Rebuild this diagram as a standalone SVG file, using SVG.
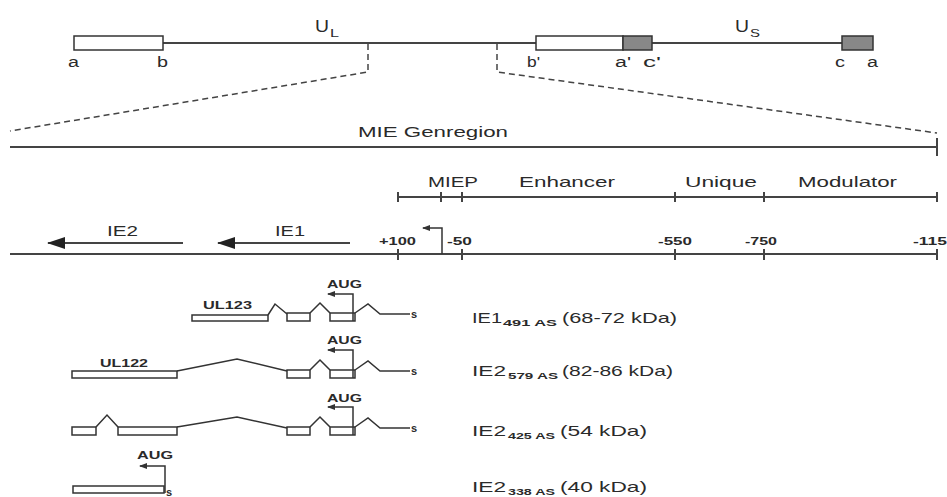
<svg xmlns="http://www.w3.org/2000/svg" width="947" height="497" viewBox="0 0 947 497">
<defs>
<marker id="big" viewBox="0 0 18 12" refX="17" refY="6" markerWidth="18" markerHeight="12" markerUnits="userSpaceOnUse" orient="auto">
<path d="M0,0 L18,6 L0,12 Z" fill="#222"/>
</marker>
<marker id="small" viewBox="0 0 8 6" refX="7" refY="3" markerWidth="8" markerHeight="6" markerUnits="userSpaceOnUse" orient="auto">
<path d="M0,0 L8,3 L0,6 Z" fill="#333"/>
</marker>
</defs>
<style>
text{font-family:"Liberation Sans",Arial,sans-serif;fill:#2a2a2a}
.t15{font-size:15px}
.t14{font-size:14px}
.t11{font-size:11px;font-weight:bold}
.sub{font-size:9px;font-weight:bold}
.ln{stroke:#444;stroke-width:2;fill:none}
.thin{stroke:#333;stroke-width:1.5;fill:none}
.dash{stroke:#444;stroke-width:1.5;fill:none;stroke-dasharray:6,4}
.box{fill:#fff;stroke:#333;stroke-width:1.5}
.gbox{fill:#888;stroke:#333;stroke-width:1.5}
</style>
<rect width="947" height="497" fill="#fff"/>

<g id="genome">
<line class="ln" x1="74" y1="43" x2="873" y2="43"/>
<rect class="box" x="74" y="36" width="89" height="14"/>
<rect class="box" x="536" y="36" width="87" height="14"/>
<rect class="gbox" x="623" y="36" width="29" height="14"/>
<rect class="gbox" x="842" y="36" width="31" height="14"/>
<text style="font-size:17px" x="315" y="32" textLength="14" lengthAdjust="spacingAndGlyphs">U</text>
<text style="font-size:11px" x="330" y="37" textLength="9" lengthAdjust="spacingAndGlyphs">L</text>
<text style="font-size:17px" x="735" y="32" textLength="14" lengthAdjust="spacingAndGlyphs">U</text>
<text style="font-size:11px" x="750" y="37" textLength="10" lengthAdjust="spacingAndGlyphs">S</text>
<text class="t14" x="68" y="67" textLength="11" lengthAdjust="spacingAndGlyphs">a</text>
<text class="t14" x="157" y="67" textLength="11" lengthAdjust="spacingAndGlyphs">b</text>
<text class="t14" x="527" y="67" textLength="13" lengthAdjust="spacingAndGlyphs">b'</text>
<text class="t14" x="615" y="67" textLength="16" lengthAdjust="spacingAndGlyphs">a'</text>
<text class="t14" x="643" y="67" textLength="18" lengthAdjust="spacingAndGlyphs">c'</text>
<text class="t14" x="835" y="67" textLength="10" lengthAdjust="spacingAndGlyphs">c</text>
<text class="t14" x="867" y="67" textLength="11" lengthAdjust="spacingAndGlyphs">a</text>
</g>

<g id="zoom-lines">
<path class="dash" d="M368,44 V72 L10,131"/>
<path class="dash" d="M497,44 V72 L937,133"/>
</g>

<g id="mie-genregion">
<line class="ln" x1="10" y1="147" x2="937" y2="147"/>
<line class="ln" x1="937" y1="138" x2="937" y2="156"/>
<text class="t15" x="358" y="137" textLength="150" lengthAdjust="spacingAndGlyphs">MIE Genregion</text>
</g>

<g id="regions">
<line class="ln" x1="398" y1="197" x2="937" y2="197"/>
<g class="ln">
<line x1="398" y1="192" x2="398" y2="202"/>
<line x1="441" y1="192" x2="441" y2="202"/>
<line x1="462" y1="192" x2="462" y2="202"/>
<line x1="675" y1="192" x2="675" y2="202"/>
<line x1="764" y1="192" x2="764" y2="202"/>
<line x1="937" y1="192" x2="937" y2="202"/>
</g>
<text class="t15" x="428" y="187" textLength="50" lengthAdjust="spacingAndGlyphs">MIEP</text>
<text class="t15" x="519" y="187" textLength="96" lengthAdjust="spacingAndGlyphs">Enhancer</text>
<text class="t15" x="685" y="187" textLength="72" lengthAdjust="spacingAndGlyphs">Unique</text>
<text class="t15" x="798" y="187" textLength="99" lengthAdjust="spacingAndGlyphs">Modulator</text>
</g>

<g id="coordinate-axis">
<line class="ln" x1="10" y1="254" x2="937" y2="254"/>
<g class="ln">
<line x1="398" y1="249" x2="398" y2="260"/>
<line x1="462" y1="249" x2="462" y2="260"/>
<line x1="675" y1="249" x2="675" y2="260"/>
<line x1="764" y1="249" x2="764" y2="260"/>
<line x1="937" y1="249" x2="937" y2="260"/>
</g>
<text class="t11" x="379" y="245" textLength="37" lengthAdjust="spacingAndGlyphs">+100</text>
<text class="t11" x="447" y="245" textLength="25" lengthAdjust="spacingAndGlyphs">-50</text>
<text class="t11" x="658" y="245" textLength="34" lengthAdjust="spacingAndGlyphs">-550</text>
<text class="t11" x="745" y="245" textLength="32" lengthAdjust="spacingAndGlyphs">-750</text>
<text class="t11" x="913" y="245" textLength="34" lengthAdjust="spacingAndGlyphs">-115</text>
<text class="t15" x="107" y="236" textLength="31" lengthAdjust="spacingAndGlyphs">IE2</text>
<text class="t15" x="275" y="236" textLength="30" lengthAdjust="spacingAndGlyphs">IE1</text>
</g>

<g id="connectors">
<line class="ln" x1="183" y1="243" x2="48" y2="243" marker-end="url(#big)"/>
<line class="ln" x1="350" y1="243" x2="218" y2="243" marker-end="url(#big)"/>
<path class="thin" d="M442,254 V228 H423" marker-end="url(#small)"/>
</g>

<g id="transcript-ie1">
<rect class="box" x="192" y="315" width="76" height="6"/>
<rect class="box" x="287" y="313" width="23" height="8"/>
<rect class="box" x="330" y="313" width="25" height="8"/>
<polyline class="thin" points="268,315 275,304 287,314"/>
<polyline class="thin" points="310,313 320,303 330,313"/>
<polyline class="thin" points="355,313 368,304 380,314 410,314"/>
<path class="thin" d="M353,321 V294 H328" marker-end="url(#small)"/>
<text class="t11" x="327" y="288" textLength="35" lengthAdjust="spacingAndGlyphs">AUG</text>
<text class="t11" x="203" y="309" textLength="49" lengthAdjust="spacingAndGlyphs">UL123</text>
<text class="t11" x="411" y="318">s</text>
<text class="t15" x="472" y="323" textLength="30" lengthAdjust="spacingAndGlyphs">IE1</text>
<text class="sub" x="503" y="326" textLength="54" lengthAdjust="spacingAndGlyphs">491 AS</text>
<text class="t15" x="562" y="323" textLength="115" lengthAdjust="spacingAndGlyphs">(68-72 kDa)</text>
</g>

<g id="transcript-ie2-579">
<rect class="box" x="72" y="371" width="105" height="7"/>
<rect class="box" x="287" y="370" width="23" height="8"/>
<rect class="box" x="330" y="370" width="25" height="8"/>
<polyline class="thin" points="177,371 237,359 287,371"/>
<polyline class="thin" points="310,370 320,360 330,370"/>
<polyline class="thin" points="355,370 368,361 380,371 410,371"/>
<path class="thin" d="M353,378 V350 H328" marker-end="url(#small)"/>
<text class="t11" x="327" y="344" textLength="35" lengthAdjust="spacingAndGlyphs">AUG</text>
<text class="t11" x="100" y="367" textLength="48" lengthAdjust="spacingAndGlyphs">UL122</text>
<text class="t11" x="411" y="375">s</text>
<text class="t15" x="472" y="376" textLength="34" lengthAdjust="spacingAndGlyphs">IE2</text>
<text class="sub" x="508" y="379" textLength="50" lengthAdjust="spacingAndGlyphs">579 AS</text>
<text class="t15" x="562" y="376" textLength="111" lengthAdjust="spacingAndGlyphs">(82-86 kDa)</text>
</g>

<g id="transcript-ie2-425">
<rect class="box" x="72" y="427" width="24" height="8"/>
<rect class="box" x="118" y="427" width="59" height="8"/>
<rect class="box" x="287" y="427" width="23" height="8"/>
<rect class="box" x="330" y="427" width="25" height="8"/>
<polyline class="thin" points="96,427 107,415 118,427"/>
<polyline class="thin" points="177,427 237,417 287,428"/>
<polyline class="thin" points="310,427 320,417 330,427"/>
<polyline class="thin" points="355,427 368,418 380,428 410,428"/>
<path class="thin" d="M353,435 V407 H328" marker-end="url(#small)"/>
<text class="t11" x="327" y="402" textLength="35" lengthAdjust="spacingAndGlyphs">AUG</text>
<text class="t11" x="411" y="432">s</text>
<text class="t15" x="472" y="436" textLength="34" lengthAdjust="spacingAndGlyphs">IE2</text>
<text class="sub" x="508" y="439" textLength="47" lengthAdjust="spacingAndGlyphs">425 AS</text>
<text class="t15" x="560" y="436" textLength="87" lengthAdjust="spacingAndGlyphs">(54 kDa)</text>
</g>

<g id="transcript-ie2-338">
<rect class="box" x="73" y="486" width="91" height="7"/>
<path class="thin" d="M165,493 V466 H140" marker-end="url(#small)"/>
<text class="t11" x="137" y="459" textLength="36" lengthAdjust="spacingAndGlyphs">AUG</text>
<text class="t11" x="166" y="496">s</text>
<text class="t15" x="472" y="492" textLength="34" lengthAdjust="spacingAndGlyphs">IE2</text>
<text class="sub" x="508" y="495" textLength="47" lengthAdjust="spacingAndGlyphs">338 AS</text>
<text class="t15" x="560" y="492" textLength="87" lengthAdjust="spacingAndGlyphs">(40 kDa)</text>
</g>
</svg>
